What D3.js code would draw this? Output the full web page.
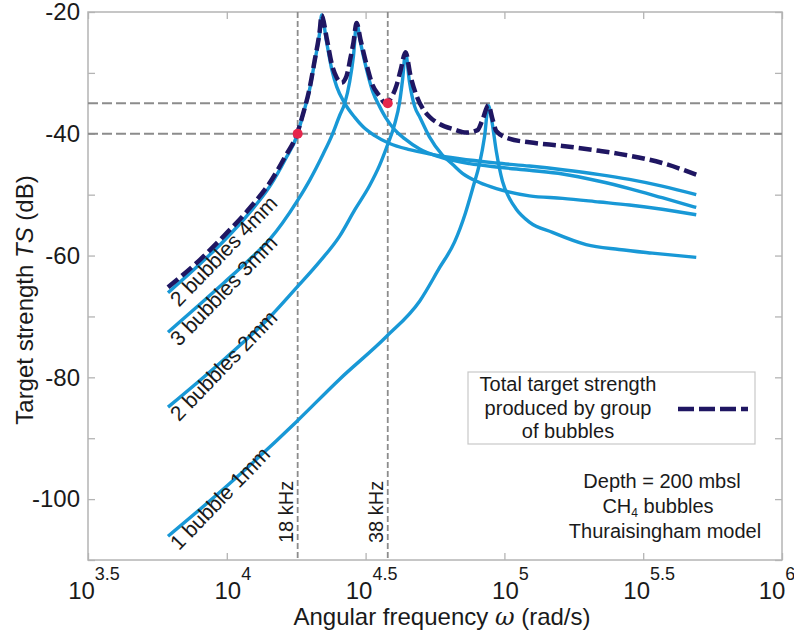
<!DOCTYPE html>
<html>
<head>
<meta charset="utf-8">
<script src="https://cdn.jsdelivr.net/npm/d3@7"></script>
<style>
  body { margin: 0; background: #fff; }
  svg text { font-family: "Liberation Sans", Arial, sans-serif; fill: #1a1a1a; }
</style>
</head>
<body>
<div id="chart"></div>
<script>
// values: angular frequency (rad/s) and target strength (dB)
const omega4mm = [6140, 8000, 9750, 12100, 14300, 16200, 17900, 18800, 19900, 20700, 21600, 21960, 22900, 23900, 24900, 26600, 28900, 30900, 34100, 38600, 45500, 53700, 68900, 93600, 123000, 162000, 220000, 282000, 370000, 491000];
const ts4mm    = [-66.1, -61.4, -57.6, -52.9, -48.6, -44.3, -40.3, -36.9, -32.6, -28.3, -23.4, -20.5, -25.0, -29.5, -32.3, -35.0, -37.3, -38.8, -40.3, -41.6, -42.6, -43.3, -44.1, -44.8, -45.3, -45.9, -46.7, -47.5, -48.6, -50.0];

const omega3mm = [6140, 8000, 9750, 12100, 14300, 17900, 19900, 22200, 23900, 25500, 26600, 27700, 28600, 29350, 30300, 31900, 33500, 35500, 37300, 40200, 43700, 49500, 58400, 74900, 96000, 123000, 162000, 220000, 282000, 370000, 491000];
const ts3mm    = [-72.6, -68.0, -64.5, -60.6, -57.3, -51.1, -47.6, -43.4, -40.3, -37.0, -35.0, -31.5, -27.2, -21.8, -25.0, -29.5, -33.0, -35.5, -37.3, -39.3, -40.8, -42.5, -43.8, -44.9, -45.5, -46.0, -46.6, -47.8, -49.0, -50.5, -52.1];

const omega2mm = [6140, 9750, 14300, 17900, 21600, 25500, 28900, 32700, 35500, 37600, 40200, 41900, 43000, 44040, 45500, 47500, 49500, 53700, 59800, 65000, 70600, 81300, 93600, 123000, 162000, 220000, 282000, 370000, 491000];
const ts2mm    = [-84.9, -77.1, -70.1, -65.2, -61.0, -56.8, -52.5, -48.5, -45.2, -42.3, -38.5, -34.9, -31.0, -26.6, -31.5, -35.5, -37.2, -40.5, -43.5, -45.0, -46.5, -48.0, -49.0, -50.2, -50.6, -51.2, -51.7, -52.4, -53.3];

const omega1mm = [6140, 9750, 17900, 25500, 37600, 49500, 58400, 66100, 72400, 77400, 81300, 84800, 87600, 89800, 93600, 98400, 104000, 110000, 123000, 149000, 197000, 259000, 341000, 491000];
const ts1mm    = [-106.1, -98.3, -87.2, -80.3, -73.3, -67.5, -62.0, -57.8, -53.0, -48.5, -45.0, -40.5, -35.4, -37.5, -43.0, -47.8, -50.5, -52.3, -54.5, -56.2, -58.2, -59.0, -59.6, -60.3];

const omegaTotal = [6140, 8000, 9750, 12100, 14300, 16200, 17900, 18800, 19900, 20700, 21600, 21960, 22900, 23900, 24900, 25900, 27000, 27900, 28600, 29350, 30300, 31900, 33500, 35500, 37300, 39200, 40900, 42300, 44040, 45900, 48300, 50700, 53700, 58400, 66100, 73000, 80000, 83400, 87600, 90500, 93600, 104000, 123000, 162000, 220000, 259000, 370000, 491000];
const tsTotal    = [-65.2, -60.7, -56.8, -52.2, -48.0, -43.8, -40.0, -36.8, -32.4, -28.1, -23.2, -20.5, -24.3, -28.6, -30.8, -31.6, -30.5, -27.5, -25.0, -21.8, -24.5, -28.7, -32.0, -33.8, -35.0, -34.0, -32.0, -29.5, -26.6, -30.5, -33.8, -35.8, -37.2, -38.4, -39.3, -39.8, -39.4, -37.7, -35.3, -37.5, -39.6, -40.8, -41.4, -42.0, -42.8, -43.3, -44.8, -46.7];

const curveNames = ["2 bubbles 4mm", "3 bubbles 3mm", "2 bubbles 2mm", "1 bubble 1mm"];

// reference lines and marked points
const refOmega  = [18000, 38000];
const refLabels = ["18 kHz", "38 kHz"];
const refTS     = [-40, -35];
const dotOmega  = [18000, 38000];
const dotTS     = [-40, -35];

const xTickExp   = [3.5, 4, 4.5, 5, 5.5, 6];
const xTickLabel = ["3.5", "4", "4.5", "5", "5.5", "6"];
const yTicks     = d3.range(-110, -19, 10);

const legendLines = ["Total target strength", "produced by group", "of bubbles"];

const lightBlue = "#1898d6";
const navy = "#1f1662";
const red = "#e5264c";
const refGray = "#8c8c8c";

const width = 794, height = 639;
const svg = d3.select("#chart").append("svg")
    .attr("width", width)
    .attr("height", height);

const x = d3.scaleLog().domain([Math.pow(10, 3.5), 1e6]).range([88, 782]);
const y = d3.scaleLinear().domain([-110, -20]).range([560, 12]);

// build series from the arrays
const series = [
    {name: curveNames[0], w: omega4mm, ts: ts4mm},
    {name: curveNames[1], w: omega3mm, ts: ts3mm},
    {name: curveNames[2], w: omega2mm, ts: ts2mm},
    {name: curveNames[3], w: omega1mm, ts: ts1mm}
].map(s => ({name: s.name, pts: s.w.map((w, i) => [w, s.ts[i]])}));
const total = omegaTotal.map((w, i) => [w, tsTotal[i]]);

const line = d3.line()
    .x(d => x(d[0]))
    .y(d => y(d[1]))
    .curve(d3.curveMonotoneX);

// axes (ticks pointing inward, box drawn separately)
const xVals = xTickExp.map(e => Math.pow(10, e));
svg.append("g")
    .attr("transform", `translate(0,${y(-110)})`)
    .call(d3.axisBottom(x).tickValues(xVals).tickSize(-7).tickFormat(""))
    .call(g => g.select(".domain").remove())
    .call(g => g.selectAll("line").attr("stroke", "#b4b4b4").attr("stroke-width", 1.3));
svg.append("g")
    .attr("transform", `translate(0,${y(-20)})`)
    .call(d3.axisTop(x).tickValues(xVals).tickSize(-7).tickFormat(""))
    .call(g => g.select(".domain").remove())
    .call(g => g.selectAll("line").attr("stroke", "#b4b4b4").attr("stroke-width", 1.3));
svg.append("g")
    .attr("transform", `translate(${x(xVals[0])},0)`)
    .call(d3.axisLeft(y).tickValues(yTicks).tickSize(-7).tickPadding(8)
        .tickFormat(d => d % 20 === 0 ? String(d) : ""))
    .call(g => g.select(".domain").remove())
    .call(g => g.selectAll("line").attr("stroke", "#b4b4b4").attr("stroke-width", 1.3))
    .call(g => g.selectAll("text").attr("font-size", 24)
        .attr("font-family", "Liberation Sans, Arial, sans-serif").attr("fill", "#1a1a1a"));
svg.append("g")
    .attr("transform", `translate(${x(1e6)},0)`)
    .call(d3.axisRight(y).tickValues(yTicks).tickSize(-7).tickFormat(""))
    .call(g => g.select(".domain").remove())
    .call(g => g.selectAll("line").attr("stroke", "#b4b4b4").attr("stroke-width", 1.3));

svg.append("rect")
    .attr("x", x(xVals[0]))
    .attr("y", y(-20))
    .attr("width", x(1e6) - x(xVals[0]))
    .attr("height", y(-110) - y(-20))
    .attr("fill", "none")
    .attr("stroke", "#b4b4b4")
    .attr("stroke-width", 1.5);

// x tick labels as 10^exp (last one pulled in so it stays on the page)
const xl = svg.append("g").selectAll("text")
    .data(xTickExp)
    .enter()
    .append("text")
    .attr("x", (d, i) => x(Math.pow(10, d)) + (i === xTickExp.length - 1 ? -5 : 6))
    .attr("y", 599)
    .attr("text-anchor", "middle")
    .attr("font-size", 24);
xl.append("tspan").text("10");
xl.append("tspan")
    .attr("dy", -19)
    .attr("font-size", 18)
    .text((d, i) => xTickLabel[i]);

// axis titles
const xt = svg.append("text")
    .attr("x", 442)
    .attr("y", 625)
    .attr("text-anchor", "middle")
    .attr("font-size", 24);
xt.append("tspan").text("Angular frequency ");
xt.append("tspan").attr("font-style", "italic").attr("font-family", "DejaVu Serif, serif").text("ω");
xt.append("tspan").text(" (rad/s)");

const yt = svg.append("text")
    .attr("transform", "translate(33,300) rotate(-90)")
    .attr("text-anchor", "middle")
    .attr("font-size", 24);
yt.append("tspan").text("Target strength ");
yt.append("tspan").attr("font-style", "italic").text("TS");
yt.append("tspan").text(" (dB)");

// dashed reference lines
svg.append("g").selectAll("line")
    .data(refTS)
    .enter()
    .append("line")
    .attr("x1", x(xVals[0]))
    .attr("x2", x(1e6))
    .attr("y1", d => y(d))
    .attr("y2", d => y(d))
    .attr("stroke", refGray)
    .attr("stroke-width", 2)
    .attr("stroke-dasharray", "10,4");

svg.append("g").selectAll("line")
    .data(refOmega)
    .enter()
    .append("line")
    .attr("x1", d => x(d))
    .attr("x2", d => x(d))
    .attr("y1", y(-20))
    .attr("y2", y(-110))
    .attr("stroke", refGray)
    .attr("stroke-width", 1.8)
    .attr("stroke-dasharray", "6,3");

svg.append("g").selectAll("text")
    .data(refOmega)
    .enter()
    .append("text")
    .attr("transform", d => `translate(${x(d) - 5},543) rotate(-90)`)
    .attr("font-size", 20)
    .text((d, i) => refLabels[i]);

// individual bubble curves
const curves = svg.append("g");
curves.selectAll("path")
    .data(series)
    .enter()
    .append("path")
    .attr("d", d => line(d.pts))
    .attr("fill", "none")
    .attr("stroke", lightBlue)
    .attr("stroke-width", 3.4)
    .attr("stroke-linejoin", "round");

// curve labels next to the start of each curve
svg.append("g").selectAll("text")
    .data(series)
    .enter()
    .append("text")
    .attr("transform", d => `translate(${x(d.pts[0][0]) + 11},${y(d.pts[0][1]) + 15}) rotate(-46)`)
    .attr("font-size", 21)
    .text(d => d.name);

// total target strength
svg.append("path")
    .attr("d", line(total))
    .attr("fill", "none")
    .attr("stroke", navy)
    .attr("stroke-width", 4.5)
    .attr("stroke-dasharray", "13,5");

svg.append("g").selectAll("circle")
    .data(dotOmega)
    .enter()
    .append("circle")
    .attr("cx", d => x(d))
    .attr("cy", (d, i) => y(dotTS[i]))
    .attr("r", 5)
    .attr("fill", red);

// legend
const lg = svg.append("g");
lg.append("rect")
    .attr("x", 468).attr("y", 372)
    .attr("width", 287).attr("height", 72)
    .attr("fill", "#fff")
    .attr("stroke", "#c8c8c8")
    .attr("stroke-width", 1.2);
lg.selectAll("text")
    .data(legendLines)
    .enter()
    .append("text")
    .attr("x", 568)
    .attr("y", (d, i) => 391 + i * 23.5)
    .attr("text-anchor", "middle")
    .attr("font-size", 20)
    .text(d => d);
lg.append("line")
    .attr("x1", 678).attr("x2", 748)
    .attr("y1", 409).attr("y2", 409)
    .attr("stroke", navy)
    .attr("stroke-width", 4.5)
    .attr("stroke-dasharray", "16,5");

// annotation
const note = svg.append("g").attr("font-size", 20);
note.append("text").attr("x", 662).attr("y", 488).attr("text-anchor", "middle").text("Depth = 200 mbsl");
const ch = note.append("text").attr("x", 658).attr("y", 513).attr("text-anchor", "middle");
ch.append("tspan").text("CH");
ch.append("tspan").attr("font-size", 12).attr("dy", 4).text("4");
ch.append("tspan").attr("dy", -4).text(" bubbles");
note.append("text").attr("x", 665).attr("y", 538).attr("text-anchor", "middle").text("Thuraisingham model");
</script>
</body>
</html>
